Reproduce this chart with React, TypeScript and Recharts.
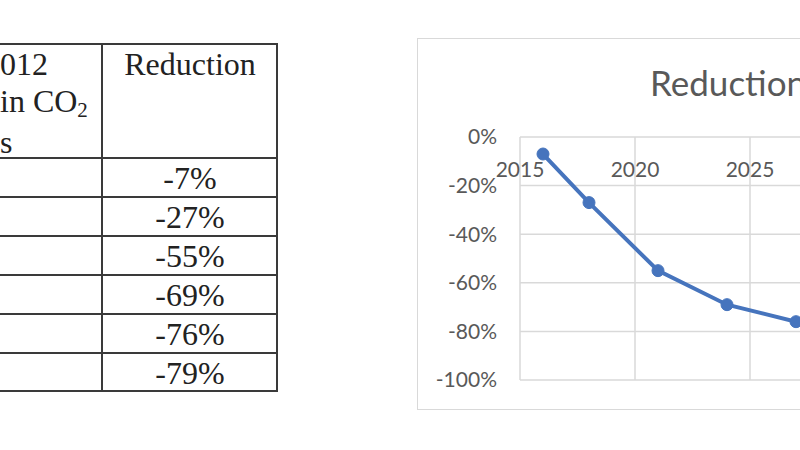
import { CartesianGrid, Line, LineChart, XAxis, YAxis } from "recharts";

const years = [2016, 2018, 2021, 2024, 2027, 2030];
const reductions = [-0.07, -0.27, -0.55, -0.69, -0.76, -0.79];
const reductionLabels = ["-7%", "-27%", "-55%", "-69%", "-76%", "-79%"];
const yearTicks = [2015, 2020, 2025, 2030, 2035];
const percentTicks = [0, -0.2, -0.4, -0.6, -0.8, -1];
const headerLines = ["012", "in CO", "s"];
const chartTitle = "Reduction";

const data = years.map((year, i) => ({ year, value: reductions[i] }));

const serif = '"Liberation Serif", "Times New Roman", serif';
const sans = 'Lato, "Open Sans", sans-serif';
const line = "#3a3a3a";
const blue = "#4674bd";

// year labels sit just under the 0% line, like Excel's axis at y = 0
const renderYearTick = ({ x, y, payload }: any) => (
  <text
    x={x}
    y={y + 31}
    textAnchor="middle"
    dominantBaseline="central"
    fill="#595959"
    fontSize={21}
    fontFamily={sans}
  >
    {payload.value}
  </text>
);

function ReductionTable() {
  const top = 43;
  const headerH = 115;
  const rowH = 39;
  const bottom = top + headerH + rowH * reductionLabels.length;
  return (
    <div style={{ position: "absolute", left: 0, top: 0, fontFamily: serif, color: "#222", fontSize: 32 }}>
      <div
        style={{
          position: "absolute",
          left: -10,
          top,
          width: 288,
          height: bottom - top,
          border: `2px solid ${line}`,
          boxSizing: "border-box",
        }}
      />
      <div style={{ position: "absolute", left: 101, top, width: 2, height: bottom - top, background: line }} />
      {reductionLabels.map((_, i) => (
        <div
          key={"h" + i}
          style={{ position: "absolute", left: -10, top: top + headerH + rowH * i - 1, width: 288, height: 2, background: line }}
        />
      ))}
      <div style={{ position: "absolute", left: 0, top: top + 3, lineHeight: "37px", whiteSpace: "nowrap" }}>
        {headerLines.map((t, i) => (
          <div key={t}>
            {t}
            {i === 1 && <span style={{ fontSize: 21, position: "relative", top: 5 }}>2</span>}
          </div>
        ))}
      </div>
      <div
        style={{ position: "absolute", left: 103, top: top + 3, width: 174, textAlign: "center", lineHeight: "37px" }}
      >
        Reduction
      </div>
      {reductionLabels.map((label, i) => (
        <div
          key={label}
          style={{
            position: "absolute",
            left: 103,
            top: top + headerH + rowH * i + 2,
            width: 174,
            textAlign: "center",
            lineHeight: "37px",
          }}
        >
          {label}
        </div>
      ))}
    </div>
  );
}

export default function App() {
  return (
    <div
      style={{
        position: "fixed",
        left: 0,
        top: 0,
        width: 800,
        height: 450,
        overflow: "hidden",
        background: "#fff",
      }}
    >
      <ReductionTable />
      <div
        style={{
          position: "absolute",
          left: 417,
          top: 38,
          width: 606,
          height: 372,
          border: "1.5px solid #d9d9d9",
          boxSizing: "border-box",
        }}
      />
      <div
        style={{
          position: "absolute",
          left: 650,
          top: 65,
          fontFamily: sans,
          fontSize: 35,
          lineHeight: "35px",
          color: "#595959",
          whiteSpace: "nowrap",
        }}
      >
        {chartTitle}
      </div>
      <div style={{ position: "absolute", left: 418, top: 39 }}>
        <LineChart width={606} height={372} data={data} margin={{ top: 68, right: 44, bottom: 31, left: 0 }}>
          <CartesianGrid stroke="#d9d9d9" strokeWidth={1.5} />
          <XAxis
            dataKey="year"
            type="number"
            orientation="top"
            domain={[2015, 2035]}
            ticks={yearTicks}
            interval={0}
            height={30}
            axisLine={false}
            tickLine={false}
            tickSize={0}
            tickMargin={0}
            tick={renderYearTick}
          />
          <YAxis
            type="number"
            domain={[-1, 0]}
            ticks={percentTicks}
            interval={0}
            width={102}
            axisLine={false}
            tickLine={false}
            tickSize={0}
            tickMargin={23}
            tickFormatter={(v: number) => `${Math.round(v * 100)}%`}
            tick={{ fill: "#595959", fontSize: 21, fontFamily: sans }}
          />
          <Line
            type="linear"
            dataKey="value"
            stroke={blue}
            strokeWidth={4}
            dot={{ r: 6, fill: blue, stroke: blue, strokeWidth: 1 }}
            isAnimationActive={false}
          />
        </LineChart>
      </div>
    </div>
  );
}
